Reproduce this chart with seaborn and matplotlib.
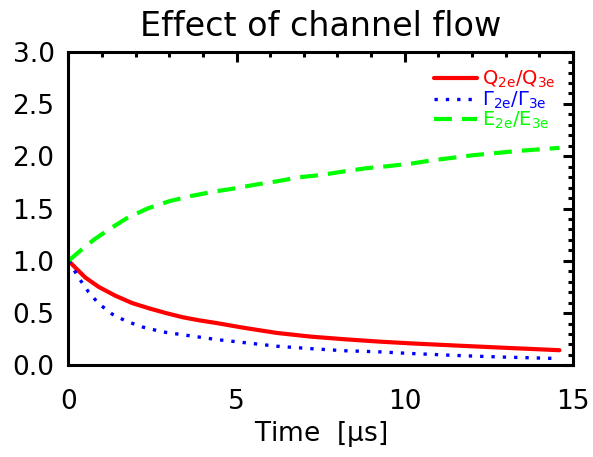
import numpy as np
import pandas as pd
import matplotlib
matplotlib.use("Agg")
import matplotlib.pyplot as plt
import seaborn as sns
from matplotlib.ticker import MultipleLocator, FormatStrFormatter

# Data
t_q = [0.0, 0.5, 0.9, 1.4, 1.9, 2.4, 2.9, 3.4, 3.9, 4.4, 5.2, 6.2, 7.2, 8.2, 9.2, 10.2, 11.5, 12.85, 14.6]
q_ratio = [1.0, 0.84, 0.75, 0.665, 0.595, 0.545, 0.50, 0.46, 0.43, 0.405, 0.36, 0.31, 0.275,
           0.25, 0.228, 0.21, 0.19, 0.17, 0.145]

t_g = [0.0, 0.3, 0.6, 0.9, 1.3, 1.7, 2.2, 2.8, 3.3, 3.9, 4.4, 5.3, 6.2, 7.2, 8.2, 9.2, 10.1,
       11.5, 12.85, 14.6]
g_ratio = [1.0, 0.84, 0.70, 0.59, 0.49, 0.425, 0.367, 0.32, 0.297, 0.27, 0.247, 0.215, 0.183,
           0.16, 0.14, 0.13, 0.115, 0.095, 0.08, 0.065]

t_e = [0.0, 0.4, 0.75, 1.2, 1.75, 2.35, 3.0, 3.65, 4.3, 4.9, 5.6, 6.2, 6.9, 7.5, 8.2, 8.85,
       9.5, 10.2, 10.8, 12.05, 13.35, 14.6]
e_ratio = [1.0, 1.11, 1.20, 1.30, 1.41, 1.50, 1.57, 1.62, 1.66, 1.69, 1.73, 1.76, 1.80, 1.82,
           1.855, 1.885, 1.905, 1.93, 1.96, 2.01, 2.05, 2.08]

labels = [r"$Q_{2e}/Q_{3e}$", r"$\Gamma_{2e}/\Gamma_{3e}$", r"$E_{2e}/E_{3e}$"]
colors = ["#ff0000", "#0000ff", "#00ff00"]

sns.set_theme(style="white")
plt.rcParams["font.family"] = ["DejaVu Sans"]
plt.rcParams["mathtext.default"] = "regular"
plt.rcParams["text.color"] = "black"
plt.rcParams["axes.labelcolor"] = "black"
plt.rcParams["xtick.color"] = "black"
plt.rcParams["ytick.color"] = "black"

fig = plt.figure(figsize=(5.93, 4.57), dpi=100)
ax = fig.add_axes([0.1155, 0.2005, 0.8505, 0.6865])

df_q = pd.DataFrame({"t": t_q, "v": q_ratio})
df_g = pd.DataFrame({"t": t_g, "v": g_ratio})
df_e = pd.DataFrame({"t": t_e, "v": e_ratio})

sns.lineplot(data=df_q, x="t", y="v", ax=ax, color=colors[0], lw=3.0, label=labels[0])
sns.lineplot(data=df_g, x="t", y="v", ax=ax, color=colors[1], lw=2.4, label=labels[1],
             linestyle=(0, (1, 2.4)))
sns.lineplot(data=df_e, x="t", y="v", ax=ax, color=colors[2], lw=3.0, label=labels[2],
             linestyle=(0, (4.3, 2.4)))

ax.set_xlim(0, 15)
ax.set_ylim(0, 3.0)
ax.xaxis.set_major_locator(MultipleLocator(5))
ax.xaxis.set_minor_locator(MultipleLocator(1))
ax.yaxis.set_major_locator(MultipleLocator(0.5))
ax.yaxis.set_minor_locator(MultipleLocator(0.1))
ax.yaxis.set_major_formatter(FormatStrFormatter("%.1f"))

for s in ax.spines.values():
    s.set_color("black")
    s.set_linewidth(2.2)

ax.tick_params(which="both", direction="in", top=True, right=True, color="black",
               width=2.2, labelcolor="black")
ax.tick_params(which="major", length=7, labelsize=19, pad=10)
ax.tick_params(which="minor", length=3.5)
ax.tick_params(axis="x", which="major", pad=17)

ax.set_xlabel(r"Time  [$\mu$s]", fontsize=19, labelpad=3, color="black")
ax.set_ylabel("")
ax.set_title("Effect of channel flow", fontsize=24, pad=11, color="black")

leg = ax.legend(loc="upper right", frameon=False, fontsize=14, handlelength=2.2,
                handletextpad=0.25, labelspacing=-0.05, borderaxespad=0.5,
                labelcolor="linecolor")

fig.savefig("out.png", dpi=100)
